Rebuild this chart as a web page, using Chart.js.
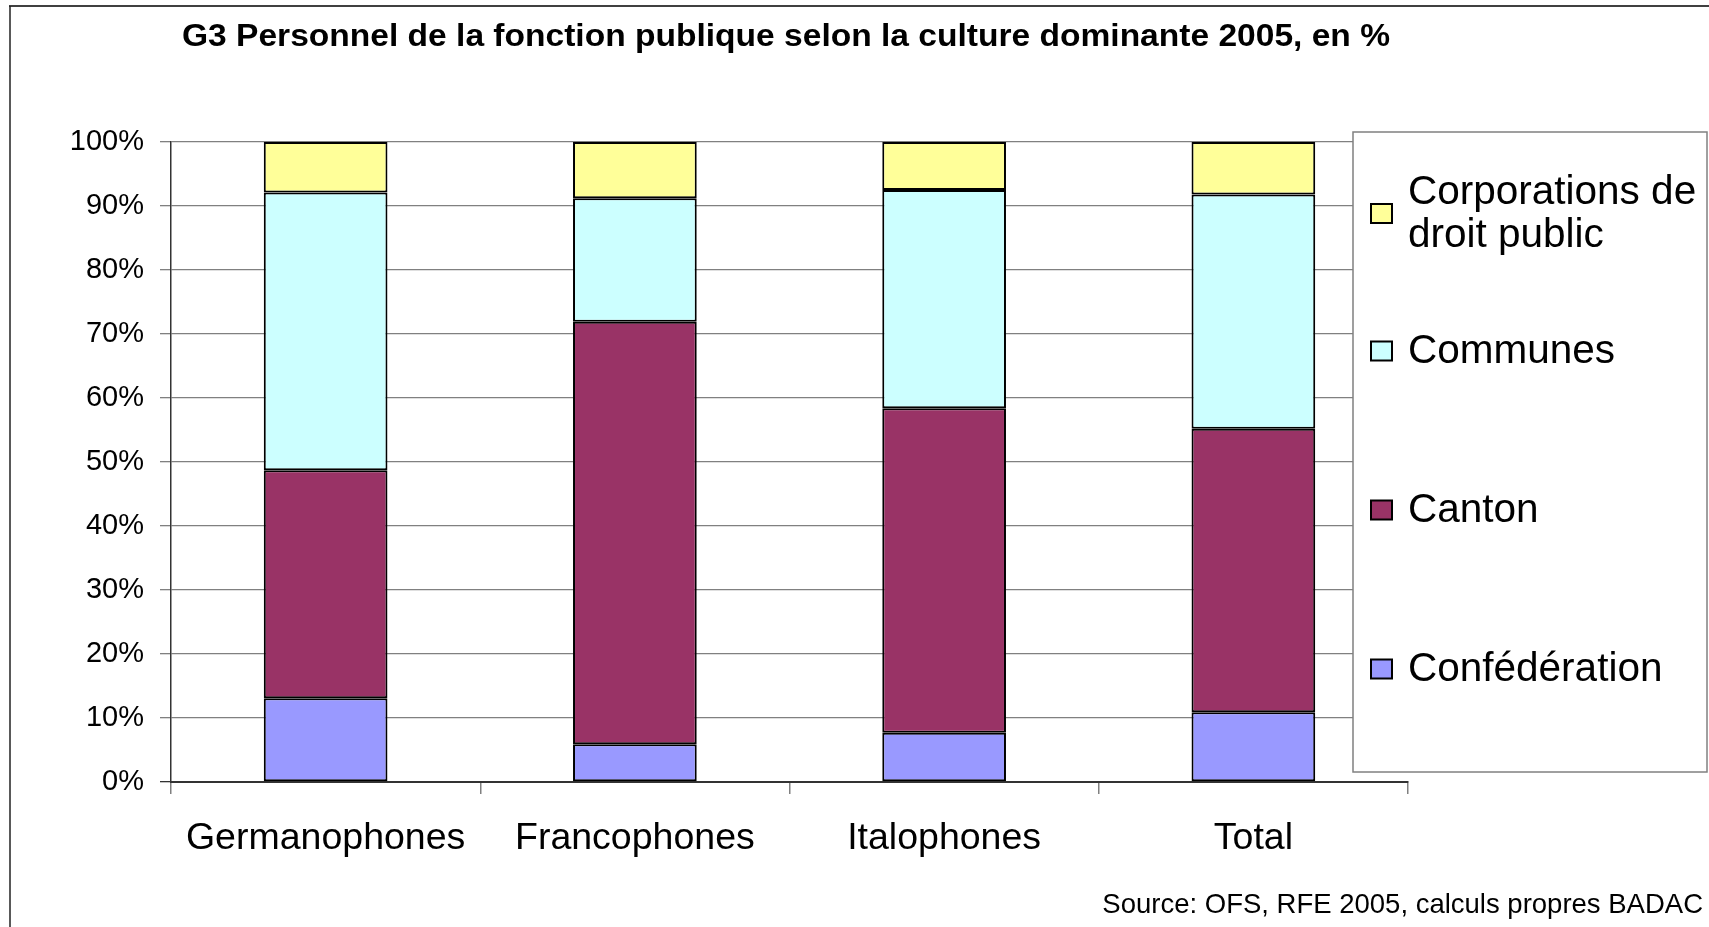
<!DOCTYPE html>
<html>
<head>
<meta charset="utf-8">
<script src="https://cdn.jsdelivr.net/npm/chart.js@4"></script>
<style>
  html, body { margin: 0; padding: 0; background: #fff; overflow: hidden; }
  canvas { display: block; }
</style>
</head>
<body>
<canvas id="c" width="1709" height="927"></canvas>
<script>
// données (en %)
const categories = ['Germanophones', 'Francophones', 'Italophones', 'Total'];
const confederation = [13.1, 5.9, 7.7, 10.9];
const canton = [35.6, 66.0, 50.7, 44.3];
const communes = [43.4, 19.3, 34.1, 36.6];
const corporations = [7.9, 8.8, 7.5, 8.2];
const yTicks = [0, 10, 20, 30, 40, 50, 60, 70, 80, 90, 100];

const titleText = 'G3 Personnel de la fonction publique selon la culture dominante 2005, en %';
const sourceText = 'Source: OFS, RFE 2005, calculs propres BADAC';
const FONT = '"Liberation Sans", Arial, sans-serif';

// cadre, titre, source et légende dessinés à la main
const decor = {
  id: 'decor',
  beforeDraw(chart) {
    const ctx = chart.ctx;
    ctx.save();
    ctx.strokeStyle = '#404040';
    ctx.lineWidth = 2;
    ctx.beginPath();
    ctx.moveTo(9, 6); ctx.lineTo(1709, 6);
    ctx.stroke();
    ctx.strokeStyle = '#222';
    ctx.lineWidth = 1.5;
    ctx.beginPath();
    ctx.moveTo(10, 6); ctx.lineTo(10, 927);
    ctx.stroke();

    // titre, étiré pour tenir la même largeur que l'original
    ctx.fillStyle = '#000';
    ctx.font = 'bold 31.5px ' + FONT;
    ctx.textAlign = 'left';
    ctx.textBaseline = 'middle';
    const w = ctx.measureText(titleText).width;
    ctx.save();
    ctx.translate(182, 37);
    ctx.scale(1208 / w, 1);
    ctx.fillText(titleText, 0, 0);
    ctx.restore();

    ctx.font = '27.5px ' + FONT;
    ctx.textAlign = 'right';
    ctx.fillText(sourceText, 1703, 905);
    ctx.restore();
  },
  afterDraw(chart) {
    const ctx = chart.ctx;
    ctx.save();
    // boîte
    ctx.fillStyle = '#fff';
    ctx.fillRect(1353, 132, 356, 640);
    ctx.strokeStyle = '#808080';
    ctx.lineWidth = 1.5;
    ctx.strokeRect(1353, 132, 354, 640);

    ctx.font = '40.5px ' + FONT;
    ctx.textAlign = 'left';
    ctx.textBaseline = 'alphabetic';
    const items = chart.data.datasets.slice().reverse();
    items.forEach((ds, i) => {
      // coupe le libellé en lignes
      const words = ds.label.split(' ');
      const lines = [];
      let cur = '';
      words.forEach(w => {
        const t = cur ? cur + ' ' + w : w;
        if (ctx.measureText(t).width > 300 && cur) { lines.push(cur); cur = w; }
        else cur = t;
      });
      lines.push(cur);
      const base = 204 + 159 * i;
      ctx.fillStyle = '#000';
      lines.forEach((l, k) => ctx.fillText(l, 1408, base + 43 * k));
      const blockTop = base - 27;
      const blockBot = base + 43 * (lines.length - 1);
      const mid = (blockTop + blockBot) / 2 + 2;
      ctx.fillStyle = ds.backgroundColor;
      ctx.fillRect(1371, mid - 10, 21, 19);
      ctx.strokeStyle = '#000';
      ctx.lineWidth = 2;
      ctx.strokeRect(1371, mid - 10, 21, 19);
    });
    ctx.restore();
  }
};

function ds(label, data, color) {
  return {
    label: label,
    data: data,
    backgroundColor: color,
    borderColor: '#000',
    borderWidth: 2,
    borderSkipped: false,
    barPercentage: 0.4,
    categoryPercentage: 1
  };
}

new Chart(document.getElementById('c'), {
  type: 'bar',
  data: {
    labels: categories,
    datasets: [
      ds('Confédération', confederation, '#9999FF'),
      ds('Canton', canton, '#993366'),
      ds('Communes', communes, '#CCFFFF'),
      ds('Corporations de droit public', corporations, '#FFFF99')
    ]
  },
  options: {
    responsive: false,
    devicePixelRatio: 1,
    animation: false,
    layout: { padding: { top: 142, right: 301, left: 0, bottom: 0 } },
    plugins: {
      legend: { display: false },
      title: { display: false },
      tooltip: { enabled: false }
    },
    scales: {
      x: {
        stacked: true,
        afterFit: s => { s.height = 145; },
        grid: {
          offset: true,
          drawOnChartArea: false,
          drawTicks: true,
          tickLength: 12,
          color: '#808080',
          lineWidth: 1.5
        },
        border: { color: '#333', width: 2 },
        ticks: {
          color: '#000',
          font: { family: FONT, size: 37.5 },
          padding: 22,
          maxRotation: 0,
          autoSkip: false
        }
      },
      y: {
        stacked: true,
        min: 0,
        max: 100,
        afterFit: s => { s.width = 171; },
        afterBuildTicks: s => { s.ticks = yTicks.map(v => ({ value: v })); },
        grid: {
          color: c => (c.tick && c.tick.value === 0) ? '#333' : '#808080',
          lineWidth: 1.3,
          tickLength: 11
        },
        border: { color: '#333', width: 1.5 },
        ticks: {
          color: '#000',
          font: { family: FONT, size: 29 },
          padding: 16,
          callback: v => v + '%'
        }
      }
    }
  },
  plugins: [decor]
});
</script>
</body>
</html>
